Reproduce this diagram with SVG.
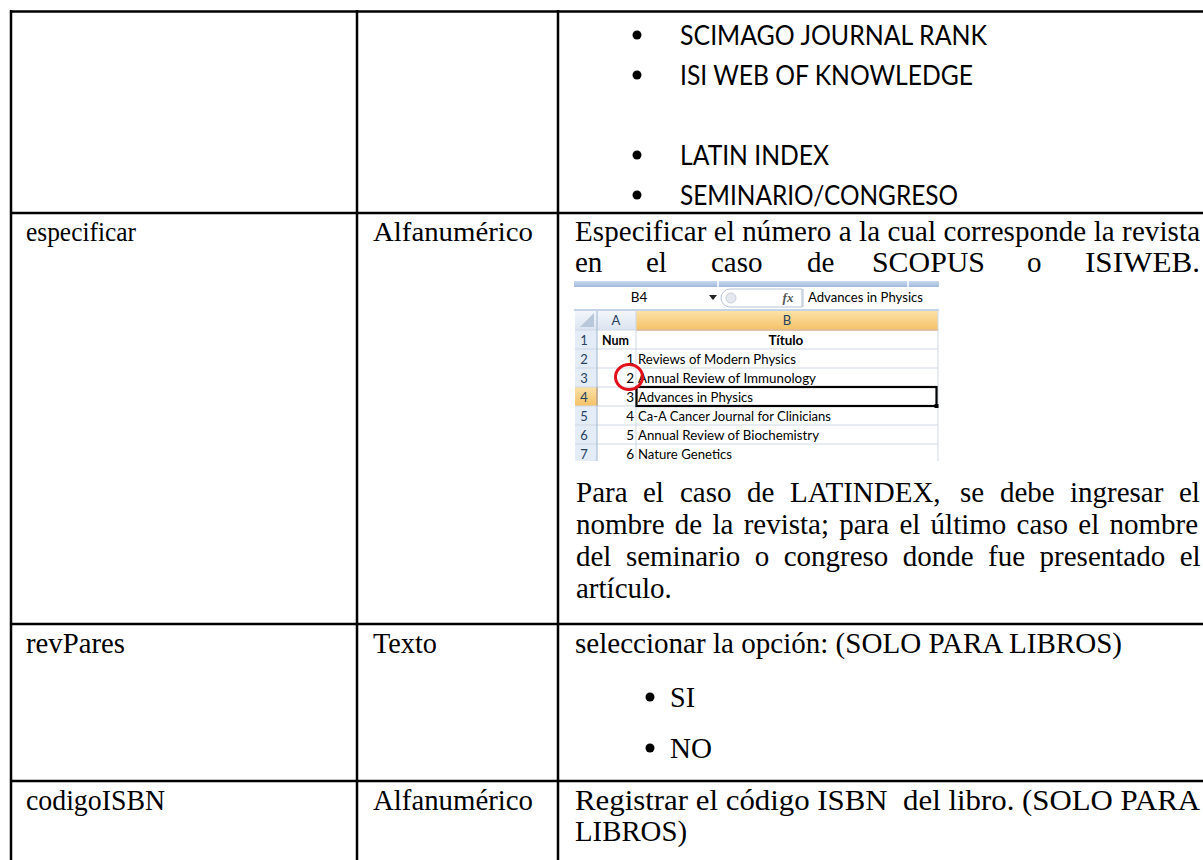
<svg xmlns="http://www.w3.org/2000/svg" width="1203" height="860" viewBox="0 0 1203 860">
<defs>
<style>
.tline{stroke:#000;stroke-width:2.5;fill:none}
.serif{font-family:"Liberation Serif","Times New Roman",serif;font-size:27px;fill:#000}
.big{font-family:"Liberation Serif","Times New Roman",serif;font-size:29px;fill:#000}
.tall{font-family:"Liberation Serif","Times New Roman",serif;font-size:29px;fill:#000;white-space:pre}
.sans{font-family:Lato,"Open Sans",sans-serif;font-size:27px;fill:#000}
.xl{font-family:Lato,"Open Sans",sans-serif;font-size:13.5px;fill:#000}
.xlb{font-family:Lato,"Open Sans",sans-serif;font-size:13.5px;font-weight:bold;fill:#000}
.hdr{font-family:Lato,"Open Sans",sans-serif;font-size:13px;fill:#27415f}
.grid{stroke:#d0d7e5;stroke-width:1}
</style>
<linearGradient id="hblue" x1="0" y1="0" x2="0" y2="1"><stop offset="0" stop-color="#f3f6fb"/><stop offset="1" stop-color="#dbe4f1"/></linearGradient>
<linearGradient id="horange" x1="0" y1="0" x2="0" y2="1"><stop offset="0" stop-color="#fbe1a8"/><stop offset="1" stop-color="#f5c266"/></linearGradient>
<linearGradient id="strip" x1="0" y1="0" x2="0" y2="1"><stop offset="0" stop-color="#c9d9ee"/><stop offset="1" stop-color="#9fb9dc"/></linearGradient>
<clipPath id="sheetclip"><rect x="573" y="280" width="367" height="181"/></clipPath>
</defs>
<rect x="0" y="0" width="1203" height="860" fill="#fff"/>

<g id="table-lines">
<line class="tline" x1="10" y1="11.5" x2="1203" y2="11.5"/>
<line class="tline" x1="11" y1="10" x2="11" y2="860"/>
<line class="tline" x1="357" y1="10" x2="357" y2="860"/>
<line class="tline" x1="558" y1="10" x2="558" y2="860"/>
<line class="tline" x1="10" y1="213" x2="1203" y2="213"/>
<line class="tline" x1="10" y1="624" x2="1203" y2="624"/>
<line class="tline" x1="10" y1="781" x2="1203" y2="781"/>
</g>

<g id="row1">
<circle cx="637" cy="35" r="4.5"/>
<text class="sans" x="680" y="45" textLength="307" lengthAdjust="spacingAndGlyphs">SCIMAGO JOURNAL RANK</text>
<circle cx="637" cy="75" r="4.5"/>
<text class="sans" x="680" y="85" textLength="293" lengthAdjust="spacingAndGlyphs">ISI WEB OF KNOWLEDGE</text>
<circle cx="637" cy="155" r="4.5"/>
<text class="sans" x="680" y="165" textLength="149" lengthAdjust="spacingAndGlyphs">LATIN INDEX</text>
<circle cx="637" cy="195" r="4.5"/>
<text class="sans" x="680" y="205" textLength="278" lengthAdjust="spacingAndGlyphs">SEMINARIO/CONGRESO</text>
</g>

<g id="row2">
<text class="serif" x="26" y="241" textLength="110" lengthAdjust="spacingAndGlyphs">especificar</text>
<text class="serif" x="373" y="241" textLength="160" lengthAdjust="spacingAndGlyphs">Alfanumérico</text>
<text class="big" x="575" y="241" textLength="625" lengthAdjust="spacing">Especificar el número a la cual corresponde la revista</text>
<text class="big" y="272"><tspan x="575">en</tspan><tspan x="646">el</tspan><tspan x="711">caso</tspan><tspan x="807">de</tspan><tspan x="872" textLength="113" lengthAdjust="spacingAndGlyphs">SCOPUS</tspan><tspan x="1027">o</tspan><tspan x="1085" textLength="115" lengthAdjust="spacingAndGlyphs">ISIWEB.</tspan></text>

<g id="spreadsheet" clip-path="url(#sheetclip)">
<rect x="574" y="281" width="365" height="6" fill="url(#strip)"/>
<line x1="718" y1="281" x2="718" y2="287" stroke="#fff" stroke-width="1.5"/>
<line x1="908" y1="281" x2="908" y2="287" stroke="#fff" stroke-width="1.5"/>
<rect x="574" y="287" width="365" height="22" fill="#fff"/>
<text class="xl" x="639" y="302" text-anchor="middle">B4</text>
<path d="M709 295 L717 295 L713 300 Z" fill="#222"/>
<path d="M730 289 L802 289 L802 307 L730 307 A9 9 0 0 1 730 289 Z" fill="#fff" stroke="#b6c3d6"/>
<circle cx="731" cy="298" r="5" fill="#e5e9ef" stroke="#c8cfd9"/>
<text x="788" y="302" text-anchor="middle" font-family="'Liberation Serif',serif" font-style="italic" font-weight="bold" font-size="13" fill="#555">fx</text>
<line x1="803" y1="289" x2="803" y2="307" stroke="#b6c3d6"/>
<text class="xl" x="808" y="302" textLength="115" lengthAdjust="spacingAndGlyphs">Advances in Physics</text>
<rect x="574" y="309" width="365" height="2" fill="#c4d3e6"/>
<rect x="575" y="311" width="22" height="19" fill="url(#hblue)"/>
<path d="M594 313 L594 327 L580 327 Z" fill="#b8c7da"/>
<rect x="597" y="311" width="39" height="19" fill="url(#hblue)"/>
<rect x="636" y="311" width="302" height="19" fill="url(#horange)"/>
<text class="hdr" x="616" y="325" text-anchor="middle">A</text>
<text class="hdr" x="787" y="325" text-anchor="middle">B</text>
<line x1="636" y1="330" x2="938" y2="330" stroke="#f29436" stroke-width="1.5"/>
<rect x="575" y="330" width="22" height="133" fill="#e4ecf7"/>
<rect x="575" y="387" width="22" height="19" fill="url(#horange)"/>
<line x1="597" y1="387" x2="597" y2="406" stroke="#f29436" stroke-width="1.5"/>
<g class="hdr" text-anchor="middle">
<text x="584" y="344.5">1</text>
<text x="584" y="363.5">2</text>
<text x="584" y="382.5">3</text>
<text x="584" y="401.5">4</text>
<text x="584" y="420.5">5</text>
<text x="584" y="439.5">6</text>
<text x="584" y="458.5">7</text>
</g>
<g class="grid">
<line x1="575" y1="330" x2="938" y2="330"/>
<line x1="575" y1="349" x2="938" y2="349"/>
<line x1="575" y1="368" x2="938" y2="368"/>
<line x1="575" y1="387" x2="938" y2="387"/>
<line x1="575" y1="406" x2="938" y2="406"/>
<line x1="575" y1="425" x2="938" y2="425"/>
<line x1="575" y1="444" x2="938" y2="444"/>
<line x1="597" y1="311" x2="597" y2="463" stroke="#9eb6ce"/>
<line x1="636" y1="311" x2="636" y2="463"/>
<line x1="938" y1="311" x2="938" y2="463"/>
</g>
<text class="xlb" x="602" y="344.5" textLength="27" lengthAdjust="spacingAndGlyphs">Num</text>
<text class="xlb" x="786" y="344.5" text-anchor="middle">Título</text>
<g class="xl" text-anchor="end">
<text x="634" y="363.5">1</text>
<text x="634" y="382.5">2</text>
<text x="634" y="401.5">3</text>
<text x="634" y="420.5">4</text>
<text x="634" y="439.5">5</text>
<text x="634" y="458.5">6</text>
</g>
<text class="xl" x="638" y="363.5" textLength="158" lengthAdjust="spacingAndGlyphs">Reviews of Modern Physics</text>
<text class="xl" x="638" y="382.5" textLength="178" lengthAdjust="spacingAndGlyphs">Annual Review of Immunology</text>
<text class="xl" x="638" y="401.5" textLength="115" lengthAdjust="spacingAndGlyphs">Advances in Physics</text>
<text class="xl" x="638" y="420.5" textLength="193" lengthAdjust="spacingAndGlyphs">Ca-A Cancer Journal for Clinicians</text>
<text class="xl" x="638" y="439.5" textLength="181" lengthAdjust="spacingAndGlyphs">Annual Review of Biochemistry</text>
<text class="xl" x="638" y="458.5" textLength="94" lengthAdjust="spacingAndGlyphs">Nature Genetics</text>
<rect x="636.5" y="387" width="300" height="19" fill="none" stroke="#000" stroke-width="2.2"/>
<rect x="934.5" y="404" width="4" height="4" fill="#000"/>
<ellipse cx="629" cy="377" rx="13.5" ry="12.5" fill="none" stroke="#e3101c" stroke-width="3"/>
</g>

<text class="big" y="502"><tspan x="576">Para</tspan><tspan x="643">el</tspan><tspan x="680">caso</tspan><tspan x="747">de</tspan><tspan x="790">LATINDEX,</tspan><tspan x="960">se</tspan><tspan x="1000">debe</tspan><tspan x="1070">ingresar</tspan><tspan x="1179">el</tspan></text>
<text class="big" x="576" y="534" word-spacing="3">nombre de la revista; para el último caso el nombre</text>
<text class="big" x="576" y="566" word-spacing="7.2">del seminario o congreso donde fue presentado el</text>
<text class="big" x="576" y="598">artículo.</text>
</g>

<g id="row3">
<text class="tall" x="26" y="653" textLength="99" lengthAdjust="spacingAndGlyphs">revPares</text>
<text class="tall" x="373" y="653" textLength="64" lengthAdjust="spacingAndGlyphs">Texto</text>
<text class="tall" x="575" y="653" textLength="547" lengthAdjust="spacingAndGlyphs">seleccionar la opción: (SOLO PARA LIBROS)</text>
<circle cx="650" cy="697" r="4.5"/>
<text class="tall" x="670" y="707" textLength="25" lengthAdjust="spacingAndGlyphs">SI</text>
<circle cx="650" cy="748" r="4.5"/>
<text class="tall" x="670" y="758" textLength="42" lengthAdjust="spacingAndGlyphs">NO</text>
</g>

<g id="row4">
<text class="tall" x="26" y="810" textLength="139" lengthAdjust="spacingAndGlyphs">codigoISBN</text>
<text class="tall" x="373" y="810" textLength="160" lengthAdjust="spacingAndGlyphs">Alfanumérico</text>
<text class="tall" x="575" y="810" textLength="625" lengthAdjust="spacingAndGlyphs">Registrar el código ISBN  del libro. (SOLO PARA</text>
<text class="tall" x="575" y="841" textLength="112" lengthAdjust="spacingAndGlyphs">LIBROS)</text>
</g>
</svg>
